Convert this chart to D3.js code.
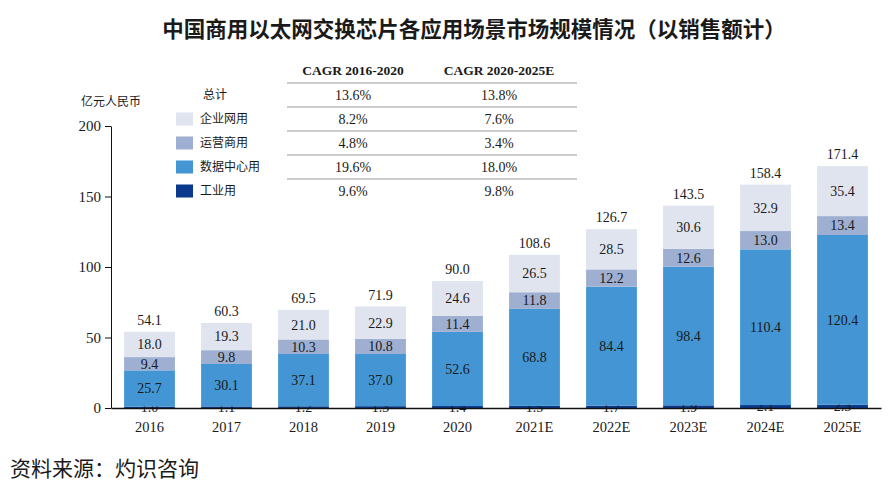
<!DOCTYPE html>
<html>
<head>
<meta charset="utf-8">
<script src="https://cdn.jsdelivr.net/npm/d3@7"></script>
<style>
  body { margin: 0; background: #fff; }
  text { fill: #1a1a1a; }
</style>
</head>
<body>
<div id="chart"></div>
<script>
// data (亿元人民币)
var years = ["2016", "2017", "2018", "2019", "2020", "2021E", "2022E", "2023E", "2024E", "2025E"];
var industrial = [1.0, 1.1, 1.2, 1.3, 1.4, 1.5, 1.7, 1.9, 2.1, 2.3];
var datacenter = [25.7, 30.1, 37.1, 37.0, 52.6, 68.8, 84.4, 98.4, 110.4, 120.4];
var carrier = [9.4, 9.8, 10.3, 10.8, 11.4, 11.8, 12.2, 12.6, 13.0, 13.4];
var enterprise = [18.0, 19.3, 21.0, 22.9, 24.6, 26.5, 28.5, 30.6, 32.9, 35.4];
var totals = [54.1, 60.3, 69.5, 71.9, 90.0, 108.6, 126.7, 143.5, 158.4, 171.4];
var yTicks = [0, 50, 100, 150, 200];

// CAGR table
var cagrHeaders = ["CAGR 2016-2020", "CAGR 2020-2025E"];
var cagrRows = ["总计", "企业网用", "运营商用", "数据中心用", "工业用"];
var cagr1620 = ["13.6%", "8.2%", "4.8%", "19.6%", "9.6%"];
var cagr2025 = ["13.8%", "7.6%", "3.4%", "18.0%", "9.8%"];

var width = 896, height = 501;
var serif = "'Liberation Serif', 'DejaVu Serif', serif";
var cjk = "'Noto Sans CJK SC', sans-serif";

var svg = d3.select("#chart").append("svg")
    .attr("width", width)
    .attr("height", height);

// series bottom to top
var keys = ["industrial", "datacenter", "carrier", "enterprise"];
var colors = { industrial: "#0b3a8c", datacenter: "#4396d3", carrier: "#9eafd1", enterprise: "#dfe4ee" };
var rowColor = [null, colors.enterprise, colors.carrier, colors.datacenter, colors.industrial];

var table = years.map(function(y, i) {
  return { year: y, industrial: industrial[i], datacenter: datacenter[i], carrier: carrier[i], enterprise: enterprise[i], total: totals[i] };
});
var stacked = d3.stack().keys(keys)(table);

var x = d3.scaleBand().domain(years).range([111, 881]).paddingInner(0.34).paddingOuter(0.17);
var y = d3.scaleLinear().domain([0, 200]).range([408, 126]);

// title
svg.append("text")
    .attr("x", 474).attr("y", 37)
    .attr("text-anchor", "middle")
    .style("font-family", cjk).style("font-size", "21.5px").style("font-weight", "bold")
    .text("中国商用以太网交换芯片各应用场景市场规模情况（以销售额计）");

// bars
var layer = svg.selectAll("g.layer").data(stacked).join("g")
    .attr("class", "layer")
    .attr("fill", function(d) { return colors[d.key]; });

layer.selectAll("rect").data(function(d) { return d; }).join("rect")
    .attr("x", function(d) { return x(d.data.year); })
    .attr("width", x.bandwidth())
    .attr("y", function(d) { return y(d[1]); })
    .attr("height", function(d) { return y(d[0]) - y(d[1]); });

// segment labels
layer.selectAll("text").data(function(d) { return d; }).join("text")
    .attr("x", function(d) { return x(d.data.year) + x.bandwidth() / 2; })
    .attr("y", function(d) { return (y(d[0]) + y(d[1])) / 2; })
    .attr("dy", "0.35em")
    .attr("text-anchor", "middle")
    .style("font-family", serif).style("font-size", "14px")
    .text(function(d) { return (d[1] - d[0]).toFixed(1); });

// totals
svg.selectAll("text.total").data(table).join("text")
    .attr("class", "total")
    .attr("x", function(d) { return x(d.year) + x.bandwidth() / 2; })
    .attr("y", function(d) { return y(d.total) - 7; })
    .attr("text-anchor", "middle")
    .style("font-family", serif).style("font-size", "14px")
    .text(function(d) { return d.total.toFixed(1); });

// axes
var gx = svg.append("g").attr("transform", "translate(0," + y(0) + ")")
    .call(d3.axisBottom(x).tickSize(0).tickPadding(14));
gx.select(".domain").attr("stroke", "#111").attr("stroke-width", 1.5);
gx.selectAll("text").style("font-family", serif).style("font-size", "14.5px").attr("fill", "#1a1a1a");

var gy = svg.append("g").attr("transform", "translate(111,0)")
    .call(d3.axisLeft(y).tickValues(yTicks).tickSize(6).tickSizeOuter(0).tickPadding(4));
gy.select(".domain").attr("stroke", "#111");
gy.selectAll("line").attr("stroke", "#111");
gy.selectAll("text").style("font-family", serif).style("font-size", "15px").attr("fill", "#1a1a1a");

svg.append("text")
    .attr("x", 81).attr("y", 106)
    .style("font-family", cjk).style("font-size", "12px")
    .text("亿元人民币");

// legend + CAGR table
var rowY = d3.scaleBand().domain(d3.range(cagrRows.length)).range([83, 203]);
var colX = [353, 499];

svg.selectAll("text.head").data(cagrHeaders).join("text")
    .attr("class", "head")
    .attr("x", function(d, i) { return colX[i]; })
    .attr("y", 75)
    .attr("text-anchor", "middle")
    .style("font-family", serif).style("font-size", "13.5px").style("font-weight", "bold")
    .text(function(d) { return d; });

svg.selectAll("line.sep").data(d3.range(cagrRows.length)).join("line")
    .attr("class", "sep")
    .attr("x1", 287).attr("x2", 577)
    .attr("y1", function(i) { return rowY(i); })
    .attr("y2", function(i) { return rowY(i); })
    .attr("stroke", "#bdbdbd").attr("stroke-width", 1.5);

var row = svg.selectAll("g.row").data(cagrRows).join("g")
    .attr("class", "row")
    .attr("transform", function(d, i) { return "translate(0," + (rowY(i) + rowY.bandwidth() / 2) + ")"; });

row.filter(function(d, i) { return rowColor[i]; }).append("rect")
    .attr("x", 176).attr("y", -6.5).attr("width", 17).attr("height", 13)
    .attr("fill", function(d) { return rowColor[cagrRows.indexOf(d)]; });

row.append("text")
    .attr("x", function(d, i) { return i === 0 ? 203 : 200; })
    .attr("dy", "0.35em")
    .style("font-family", cjk).style("font-size", "12px").attr("fill", "#333")
    .text(function(d) { return d; });

row.append("text")
    .attr("x", colX[0]).attr("dy", "0.35em").attr("text-anchor", "middle")
    .style("font-family", serif).style("font-size", "14px")
    .text(function(d, i) { return cagr1620[i]; });

row.append("text")
    .attr("x", colX[1]).attr("dy", "0.35em").attr("text-anchor", "middle")
    .style("font-family", serif).style("font-size", "14px")
    .text(function(d, i) { return cagr2025[i]; });

// source
svg.append("text")
    .attr("x", 10).attr("y", 476)
    .style("font-family", cjk).style("font-size", "21px")
    .text("资料来源：灼识咨询");
</script>
</body>
</html>
